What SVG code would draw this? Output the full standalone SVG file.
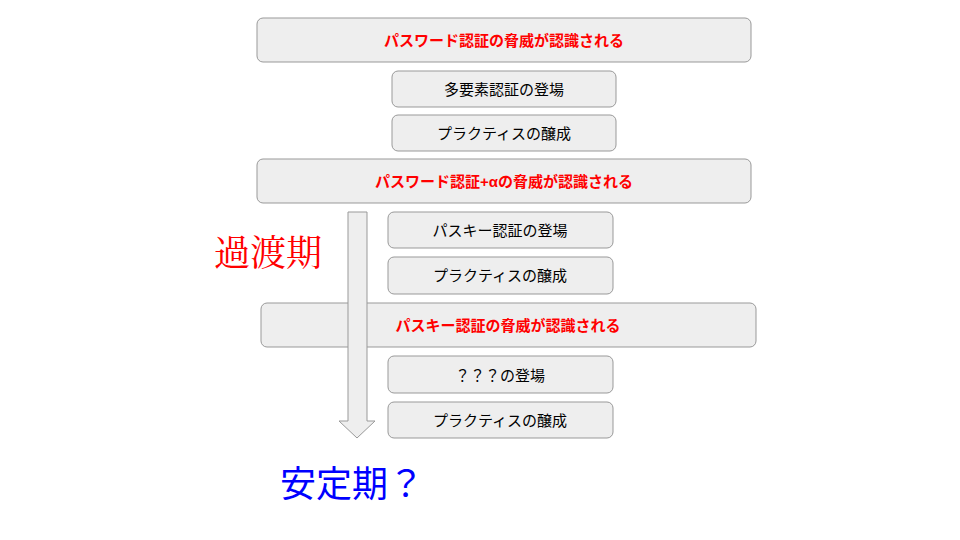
<svg xmlns="http://www.w3.org/2000/svg" width="960" height="540" viewBox="0 0 960 540">
<style>
.b{fill:#eeeeee;stroke:#999;stroke-width:1}
.t{font-family:"Liberation Sans","Noto Sans CJK JP",sans-serif;font-size:15px;fill:#000;text-anchor:middle;dominant-baseline:central}
.r{fill:#ff0000;font-weight:bold}
</style>
<rect width="960" height="540" fill="#fff"/>
<g id="n1"><rect class="b" x="257" y="18" width="494" height="44" rx="6"/><text class="t r" x="504" y="40">パスワード認証の脅威が認識される</text></g>
<g id="n2"><rect class="b" x="392" y="71" width="224" height="36" rx="6"/><text class="t" x="504" y="89">多要素認証の登場</text></g>
<g id="n3"><rect class="b" x="392" y="115" width="224" height="36" rx="6"/><text class="t" x="504" y="133">プラクティスの醸成</text></g>
<g id="n4"><rect class="b" x="257" y="159" width="494" height="44" rx="6"/><text class="t r" x="504" y="181">パスワード認証+αの脅威が認識される</text></g>
<g id="n5"><rect class="b" x="388" y="212" width="225" height="36" rx="6"/><text class="t" x="500" y="230">パスキー認証の登場</text></g>
<g id="n6"><rect class="b" x="388" y="257" width="225" height="37" rx="6"/><text class="t" x="500" y="275">プラクティスの醸成</text></g>
<g id="n7"><rect class="b" x="261" y="303" width="495" height="44" rx="6"/><text class="t r" x="508" y="325">パスキー認証の脅威が認識される</text></g>
<g id="n8"><rect class="b" x="388" y="356" width="225" height="37" rx="6"/><text class="t" x="500" y="375">？？？の登場</text></g>
<g id="n9"><rect class="b" x="388" y="402" width="225" height="36" rx="6"/><text class="t" x="500" y="420">プラクティスの醸成</text></g>
<g id="connectors"><path d="M348,212 H367 V421 H375 L357,438 L339,421 H348 Z" fill="#eeeeee" stroke="#999" stroke-width="1"/></g>
<g id="labels">
<text x="214" y="266" font-family="'Noto Serif CJK JP','Noto Sans CJK JP',serif" font-size="36" fill="#ff0000">過渡期</text>
<text x="280" y="497" font-family="'Noto Sans CJK JP',sans-serif" font-size="36" fill="#0000ff">安定期？</text>
</g>
</svg>
